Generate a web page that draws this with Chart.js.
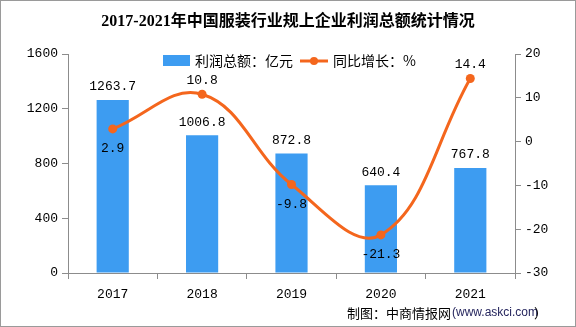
<!DOCTYPE html>
<html lang="zh">
<head>
    <meta charset="UTF-8">
    <title>服装行业利润总额</title>
    <script src="https://cdn.jsdelivr.net/npm/chart.js"></script>
    <style>
        html, body {
            margin: 0;
            padding: 0;
            background: #fff;
        }
        .wrap {
            width: 576px;
            height: 327px;
            position: relative;
        }
    </style>
</head>
<body>
    <div class="wrap">
        <canvas id="profitChart" width="576" height="327"></canvas>
    </div>

    <script>
        // data
        const years = ['2017', '2018', '2019', '2020', '2021'];
        const profit = [1263.7, 1006.8, 872.8, 640.4, 767.8];
        const growth = [2.9, 10.8, -9.8, -21.3, 14.4];
        const profitTicks = [0, 400, 800, 1200, 1600];
        const growthTicks = [-30, -20, -10, 0, 10, 20];

        const titleText = '2017-2021年中国服装行业规上企业利润总额统计情况';
        const profitLabel = '利润总额：亿元';
        const growthLabel = '同比增长：%';

        const BLUE = '#3d9cf1';
        const ORANGE = '#f4661d';
        const AXIS = '#8c8c8c';
        const NUM_FONT = '13px "Liberation Mono", monospace';

        // title, legend, labels, footer, frame
        const decorPlugin = {
            id: 'decor',
            afterDatasetsDraw(chart) {
                const ctx = chart.ctx;
                ctx.save();
                ctx.font = NUM_FONT;
                ctx.fillStyle = '#000';
                ctx.textAlign = 'center';
                ctx.textBaseline = 'middle';

                // bar values
                const barMeta = chart.getDatasetMeta(0);
                barMeta.data.forEach((bar, i) => {
                    ctx.fillText(profit[i].toFixed(1), bar.x, bar.y - 13);
                });

                // line values: above on local peaks, otherwise below
                const lineMeta = chart.getDatasetMeta(1);
                lineMeta.data.forEach((pt, i) => {
                    const prev = i > 0 ? growth[i - 1] : -Infinity;
                    const next = i < growth.length - 1 ? growth[i + 1] : -Infinity;
                    const peak = growth[i] > prev && growth[i] > next;
                    ctx.fillText(growth[i].toFixed(1), pt.x, peak ? pt.y - 14 : pt.y + 20);
                });
                ctx.restore();
            },
            afterDraw(chart) {
                const ctx = chart.ctx;
                ctx.save();

                // title
                ctx.fillStyle = '#000';
                ctx.textAlign = 'center';
                ctx.textBaseline = 'middle';
                ctx.font = 'bold 16px "Liberation Serif", "Noto Sans CJK SC", serif';
                ctx.fillText(titleText, 288, 22);

                // legend
                ctx.textAlign = 'left';
                ctx.font = '14px "Noto Sans CJK SC", sans-serif';
                ctx.fillStyle = BLUE;
                ctx.fillRect(163, 55, 27, 11);
                ctx.fillStyle = '#000';
                ctx.fillText(profitLabel, 195, 61);

                ctx.strokeStyle = ORANGE;
                ctx.lineWidth = 3;
                ctx.beginPath();
                ctx.moveTo(300, 61);
                ctx.lineTo(328, 61);
                ctx.stroke();
                ctx.fillStyle = ORANGE;
                ctx.beginPath();
                ctx.arc(314, 61, 4, 0, Math.PI * 2);
                ctx.fill();
                ctx.fillStyle = '#000';
                ctx.fillText(growthLabel, 333, 61);

                // footer
                ctx.font = '13px "Noto Sans CJK SC", sans-serif';
                ctx.fillText('制图：中商情报网', 347, 313);
                ctx.fillStyle = '#26265e';
                ctx.font = '12px "Liberation Sans", sans-serif';
                ctx.fillText('(www.askci.com', 452, 313);
                ctx.font = '13px "Noto Sans CJK SC", sans-serif';
                ctx.fillStyle = '#000';
                ctx.fillText('）', 534, 313);

                // frame
                ctx.strokeStyle = '#9a9a9a';
                ctx.lineWidth = 1;
                ctx.strokeRect(0.5, 0.5, 575, 326);
                ctx.restore();
            }
        };

        const tickFont = { family: '"Liberation Mono", monospace', size: 13 };

        new Chart(document.getElementById('profitChart').getContext('2d'), {
            data: {
                labels: years,
                datasets: [
                    {
                        type: 'bar',
                        label: profitLabel,
                        data: profit,
                        backgroundColor: BLUE,
                        yAxisID: 'y',
                        barPercentage: 0.36,
                        categoryPercentage: 1,
                        order: 2
                    },
                    {
                        type: 'line',
                        label: growthLabel,
                        data: growth,
                        borderColor: ORANGE,
                        backgroundColor: ORANGE,
                        borderWidth: 3,
                        pointRadius: 4.5,
                        pointBackgroundColor: ORANGE,
                        pointBorderWidth: 0,
                        tension: 0.4,
                        yAxisID: 'y1',
                        order: 1
                    }
                ]
            },
            options: {
                responsive: false,
                animation: false,
                layout: {
                    padding: { top: 54, left: 0, right: 0, bottom: 0 }
                },
                plugins: {
                    legend: { display: false },
                    title: { display: false },
                    tooltip: { enabled: false }
                },
                scales: {
                    x: {
                        offset: true,
                        afterFit(scale) { scale.height = 54; },
                        grid: {
                            offset: true,
                            drawOnChartArea: false,
                            drawTicks: true,
                            tickLength: 6,
                            color: AXIS
                        },
                        border: { color: AXIS },
                        ticks: {
                            color: '#000',
                            font: tickFont,
                            padding: 8
                        }
                    },
                    y: {
                        position: 'left',
                        min: profitTicks[0],
                        max: profitTicks[profitTicks.length - 1],
                        afterFit(scale) { scale.width = 68; },
                        afterBuildTicks(scale) {
                            scale.ticks = profitTicks.map(v => ({ value: v }));
                        },
                        grid: {
                            drawOnChartArea: false,
                            tickLength: 6,
                            color: AXIS
                        },
                        border: { color: AXIS },
                        ticks: {
                            color: '#000',
                            font: tickFont,
                            padding: 4,
                            callback: v => String(v)
                        }
                    },
                    y1: {
                        position: 'right',
                        min: growthTicks[0],
                        max: growthTicks[growthTicks.length - 1],
                        afterFit(scale) { scale.width = 61; },
                        afterBuildTicks(scale) {
                            scale.ticks = growthTicks.map(v => ({ value: v }));
                        },
                        grid: {
                            drawOnChartArea: false,
                            tickLength: 6,
                            color: AXIS
                        },
                        border: { color: AXIS },
                        ticks: {
                            color: '#000',
                            font: tickFont,
                            padding: 4,
                            callback: v => String(v)
                        }
                    }
                }
            },
            plugins: [decorPlugin]
        });
    </script>
</body>
</html>
